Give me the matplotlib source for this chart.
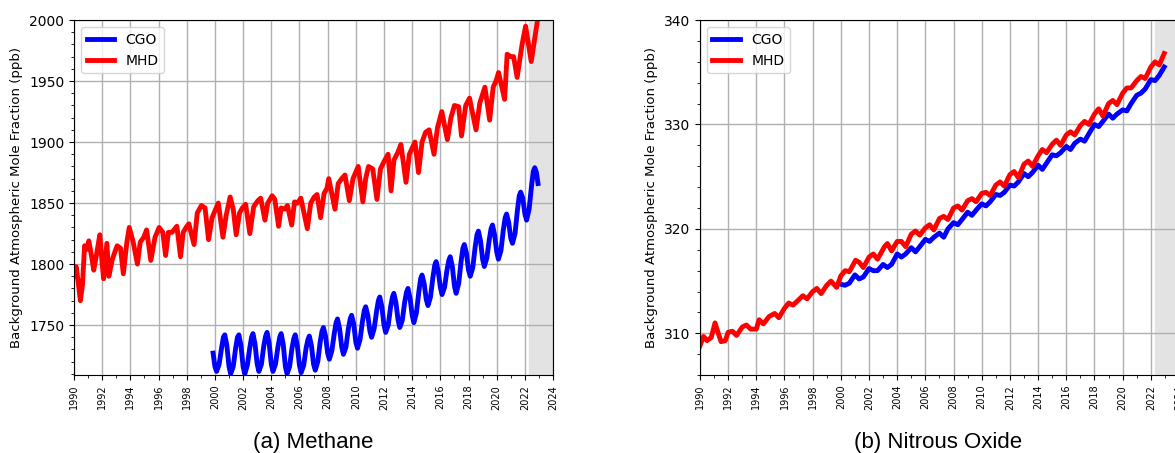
import matplotlib
matplotlib.use('Agg')
import matplotlib.pyplot as plt
from matplotlib.ticker import MultipleLocator

# Methane (ppb), Mace Head and Cape Grim
mhd_ch4_t = [1990.0, 1990.15, 1990.3, 1990.45, 1990.6, 1990.75, 1990.9, 1991.05, 1991.25, 1991.4,
             1991.6, 1991.83, 1992.0, 1992.1, 1992.33, 1992.47, 1992.7, 1992.9, 1993.06, 1993.3,
             1993.5, 1993.75, 1993.92, 1994.2, 1994.5, 1994.7, 1994.95, 1995.15, 1995.45, 1995.75,
             1996.04, 1996.3, 1996.5, 1996.7, 1996.95, 1997.3, 1997.56, 1997.75, 1997.95, 1998.15,
             1998.52, 1998.75, 1999.04, 1999.3, 1999.55, 1999.8, 2000.05, 2000.24, 2000.57, 2000.8,
             2001.08, 2001.3, 2001.51, 2001.75, 2001.95, 2002.18, 2002.48, 2002.75, 2003.05, 2003.25,
             2003.55, 2003.75, 2004.06, 2004.25, 2004.52, 2004.7, 2004.95, 2005.15, 2005.45, 2005.65,
             2005.85, 2006.1, 2006.56, 2006.8, 2007.05, 2007.25, 2007.5, 2007.75, 2007.95, 2008.08,
             2008.52, 2008.75, 2009.0, 2009.23, 2009.54, 2009.8, 2010.17, 2010.5, 2010.7, 2010.9,
             2011.2, 2011.5, 2011.75, 2012.0, 2012.29, 2012.5, 2012.7, 2013.0, 2013.2, 2013.56,
             2013.8, 2014.2, 2014.45, 2014.7, 2014.95, 2015.2, 2015.55, 2015.8, 2016.1, 2016.5,
             2016.75, 2017.0, 2017.3, 2017.5, 2017.8, 2018.07, 2018.53, 2018.8, 2019.16, 2019.5,
             2019.75, 2019.95, 2020.13, 2020.56, 2020.74, 2021.0, 2021.2, 2021.45, 2021.8, 2022.05,
             2022.45, 2022.7, 2022.95]
mhd_ch4 = [1790, 1798, 1785, 1770, 1783, 1815, 1812, 1819, 1806, 1795,
           1808, 1824, 1800, 1788, 1817, 1790, 1803, 1810, 1815, 1813,
           1792, 1818, 1830, 1818, 1800, 1818, 1822, 1828, 1803, 1822,
           1830, 1826, 1807, 1826, 1826, 1831, 1806, 1826, 1830, 1833,
           1816, 1842, 1848, 1846, 1820, 1838, 1845, 1850, 1822, 1840,
           1855, 1845, 1824, 1842, 1846, 1849, 1825, 1847, 1852, 1854,
           1836, 1850, 1856, 1853, 1831, 1846, 1845, 1848, 1832, 1851,
           1850, 1854, 1829, 1850, 1855, 1857, 1838, 1858, 1862, 1870,
           1845, 1866, 1870, 1873, 1852, 1870, 1880, 1851, 1870, 1880,
           1878, 1853, 1878, 1884, 1890, 1860, 1885, 1892, 1898, 1867,
           1890, 1900, 1875, 1900, 1908, 1910, 1890, 1912, 1925, 1902,
           1920, 1930, 1929, 1905, 1930, 1936, 1910, 1932, 1945, 1918,
           1945, 1950, 1957, 1935, 1972, 1970, 1970, 1953, 1980, 1995,
           1966, 1985, 2004]

cgo_ch4_t = [1999.87, 2000.0,
             2000.12, 2000.3, 2000.47, 2000.6, 2000.7, 2000.85, 2001.0,
             2001.12, 2001.3, 2001.47, 2001.6, 2001.7, 2001.85, 2002.0,
             2002.12, 2002.3, 2002.47, 2002.6, 2002.7, 2002.85, 2003.0,
             2003.12, 2003.3, 2003.47, 2003.6, 2003.7, 2003.85, 2004.0,
             2004.12, 2004.3, 2004.47, 2004.6, 2004.7, 2004.85, 2005.0,
             2005.12, 2005.3, 2005.47, 2005.6, 2005.7, 2005.85, 2006.0,
             2006.12, 2006.3, 2006.47, 2006.6, 2006.7, 2006.85, 2007.0,
             2007.12, 2007.3, 2007.47, 2007.6, 2007.7, 2007.85, 2008.0,
             2008.12, 2008.3, 2008.47, 2008.6, 2008.7, 2008.85, 2009.0,
             2009.12, 2009.3, 2009.47, 2009.6, 2009.7, 2009.85, 2010.0,
             2010.12, 2010.3, 2010.47, 2010.6, 2010.7, 2010.85, 2011.0,
             2011.12, 2011.3, 2011.47, 2011.6, 2011.7, 2011.85, 2012.0,
             2012.12, 2012.3, 2012.47, 2012.6, 2012.7, 2012.85, 2013.0,
             2013.12, 2013.3, 2013.47, 2013.6, 2013.7, 2013.85, 2014.0,
             2014.12, 2014.3, 2014.47, 2014.6, 2014.7, 2014.85, 2015.0,
             2015.12, 2015.3, 2015.47, 2015.6, 2015.7, 2015.85, 2016.0,
             2016.12, 2016.3, 2016.47, 2016.6, 2016.7, 2016.85, 2017.0,
             2017.12, 2017.3, 2017.47, 2017.6, 2017.7, 2017.85, 2018.0,
             2018.12, 2018.3, 2018.47, 2018.6, 2018.7, 2018.85, 2019.0,
             2019.12, 2019.3, 2019.47, 2019.6, 2019.7, 2019.85, 2020.0,
             2020.12, 2020.3, 2020.47, 2020.6, 2020.7, 2020.85, 2021.0,
             2021.12, 2021.3, 2021.47, 2021.6, 2021.7, 2021.85, 2022.0,
             2022.12, 2022.3, 2022.47, 2022.6, 2022.7, 2022.82, 2022.93]
cgo_ch4 = [1727, 1716,
           1712, 1718, 1731, 1740, 1742, 1733, 1716,
           1710, 1716, 1731, 1740, 1742, 1733, 1716,
           1710, 1717, 1731, 1740, 1743, 1734, 1718,
           1712, 1718, 1733, 1741, 1744, 1735, 1718,
           1712, 1718, 1732, 1740, 1743, 1734, 1716,
           1710, 1716, 1731, 1739, 1742, 1733, 1717,
           1711, 1717, 1731, 1738, 1741, 1733, 1718,
           1713, 1720, 1736, 1745, 1748, 1741, 1727,
           1722, 1729, 1743, 1752, 1755, 1747, 1732,
           1726, 1732, 1747, 1755, 1758, 1751, 1736,
           1731, 1738, 1753, 1762, 1765, 1758, 1745,
           1740, 1747, 1761, 1770, 1773, 1765, 1750,
           1744, 1750, 1765, 1773, 1776, 1768, 1754,
           1748, 1754, 1769, 1777, 1780, 1772, 1758,
           1752, 1760, 1777, 1788, 1791, 1784, 1771,
           1766, 1773, 1789, 1799, 1802, 1794, 1781,
           1775, 1781, 1795, 1803, 1806, 1798, 1782,
           1776, 1784, 1802, 1813, 1816, 1809, 1795,
           1790, 1797, 1814, 1824, 1827, 1819, 1804,
           1798, 1805, 1820, 1829, 1832, 1824, 1810,
           1804, 1811, 1828, 1838, 1841, 1834, 1821,
           1817, 1825, 1844, 1856, 1859, 1854, 1841,
           1836, 1845, 1864, 1876, 1879, 1875, 1866]

# Nitrous oxide (ppb)
mhd_n2o_t = [1990.0, 1990.25, 1990.5, 1990.8, 1991.07, 1991.3, 1991.5, 1991.8,
             1992.0, 1992.3, 1992.6, 1993.0, 1993.3, 1993.6, 1994.0, 1994.2, 1994.5, 1994.9,
             1995.3, 1995.6, 1996.0, 1996.3, 1996.6, 1997.0, 1997.3, 1997.6, 1998.0, 1998.3,
             1998.6, 1999.0, 1999.3, 1999.7, 2000.0, 2000.3, 2000.6, 2001.05, 2001.3, 2001.6,
             2002.0, 2002.3, 2002.6, 2003.1, 2003.3, 2003.6, 2004.0, 2004.3, 2004.6, 2005.0,
             2005.3, 2005.6, 2006.0, 2006.3, 2006.6, 2007.0, 2007.3, 2007.6, 2008.0, 2008.3,
             2008.6, 2009.0, 2009.3, 2009.6, 2010.0, 2010.3, 2010.6, 2011.0, 2011.3, 2011.6,
             2012.0, 2012.3, 2012.6, 2013.0, 2013.3, 2013.6, 2014.0, 2014.3, 2014.6, 2015.0,
             2015.3, 2015.6, 2016.0, 2016.3, 2016.6, 2017.0, 2017.3, 2017.6, 2018.0, 2018.3,
             2018.6, 2019.0, 2019.3, 2019.6, 2020.0, 2020.3, 2020.6, 2021.0, 2021.3, 2021.6,
             2022.0, 2022.3, 2022.6, 2022.95]
mhd_n2o = [308.8, 309.7, 309.3, 309.6, 311.0, 310.0, 309.2, 309.3,
           310.1, 310.2, 309.8, 310.6, 310.8, 310.4, 310.4, 311.3, 310.9, 311.6,
           311.9, 311.5, 312.4, 312.9, 312.7, 313.2, 313.6, 313.3, 314.0, 314.3,
           313.8, 314.6, 315.0, 314.4, 315.5, 316.0, 315.9, 317.0, 316.8, 316.3,
           317.3, 317.6, 317.1, 318.3, 318.6, 317.9, 318.8, 318.8, 318.3, 319.5,
           319.8, 319.4, 320.1, 320.4, 319.9, 321.0, 321.2, 320.9, 322.0, 322.2,
           321.8, 322.7, 322.9, 322.6, 323.4, 323.5, 323.2, 324.2, 324.5, 324.1,
           325.2, 325.5, 324.9, 326.2, 326.5, 326.0, 327.0, 327.6, 327.3, 328.1,
           328.5, 328.0, 329.0, 329.3, 329.0, 329.9, 330.3, 330.0, 331.0, 331.5,
           330.8, 332.0, 332.3, 331.9, 333.0, 333.5, 333.5, 334.2, 334.6, 334.4,
           335.5, 336.0, 335.7, 336.8]

cgo_n2o_t = [2000.0, 2000.3, 2000.6, 2001.0, 2001.3, 2001.6, 2002.0, 2002.3, 2002.6,
             2003.0, 2003.3, 2003.6, 2004.0, 2004.3, 2004.6, 2005.0, 2005.3, 2005.6,
             2006.0, 2006.3, 2006.6, 2007.0, 2007.3, 2007.6, 2008.0, 2008.3, 2008.6,
             2009.0, 2009.3, 2009.6, 2010.0, 2010.3, 2010.6, 2011.0, 2011.3, 2011.6,
             2012.0, 2012.3, 2012.6, 2013.0, 2013.3, 2013.6, 2014.0, 2014.3, 2014.6,
             2015.0, 2015.3, 2015.6, 2016.0, 2016.3, 2016.6, 2017.0, 2017.3, 2017.6,
             2018.0, 2018.3, 2018.6, 2019.0, 2019.3, 2019.6, 2020.0, 2020.3, 2020.6,
             2021.0, 2021.3, 2021.6, 2022.0, 2022.3, 2022.6, 2022.95]
cgo_n2o = [314.7, 314.6, 314.8, 315.6, 315.2, 315.4, 316.2, 316.0, 316.0,
           316.6, 316.3, 316.6, 317.6, 317.3, 317.6, 318.2, 317.8, 318.3,
           319.0, 318.8, 319.2, 319.6, 319.2, 320.0, 320.6, 320.4, 320.9,
           321.6, 321.3, 321.8, 322.4, 322.2, 322.6, 323.3, 323.2, 323.5,
           324.2, 324.1, 324.5, 325.3, 325.0, 325.4, 326.1, 325.7, 326.3,
           327.1, 327.0, 327.3, 327.9, 327.6, 328.2, 328.6, 328.4, 329.1,
           330.0, 329.8, 330.3, 331.0, 330.6, 331.0, 331.4, 331.3, 332.0,
           332.8, 333.0, 333.4, 334.3, 334.2, 334.7, 335.5]

shade_start = 2022.3

fig = plt.figure(figsize=(11.75, 4.53), dpi=100)
ax1 = fig.add_axes([0.063, 0.172, 0.4077, 0.7837])
ax2 = fig.add_axes([0.5957, 0.172, 0.4077, 0.7837])


def style_axis(ax, ylim, ymajor, yminor):
    ax.axvspan(shade_start, 2024, color='#e3e3e3', zorder=0)
    ax.set_xlim(1990, 2024)
    ax.set_ylim(*ylim)
    ax.xaxis.set_major_locator(MultipleLocator(2))
    ax.xaxis.set_minor_locator(MultipleLocator(1))
    ax.yaxis.set_major_locator(MultipleLocator(ymajor))
    ax.yaxis.set_minor_locator(MultipleLocator(yminor))
    ax.grid(True, which='major', color='#b0b0b0', lw=1)
    ax.set_axisbelow(True)
    ax.tick_params(axis='x', labelsize=7, labelrotation=90)
    ax.tick_params(axis='y', labelsize=10)
    ax.set_ylabel('Background Atmospheric Mole Fraction (ppb)', fontsize=9.5)
    ax.legend(loc='upper left', fontsize=10)


ax1.plot(cgo_ch4_t, cgo_ch4, color='blue', lw=3.5, label='CGO')
ax1.plot(mhd_ch4_t, mhd_ch4, color='red', lw=3.5, label='MHD')
style_axis(ax1, (1709, 2000), 50, 10)

ax2.plot(cgo_n2o_t, cgo_n2o, color='blue', lw=3.5, label='CGO')
ax2.plot(mhd_n2o_t, mhd_n2o, color='red', lw=3.5, label='MHD')
style_axis(ax2, (306, 340), 10, 2)

fig.text(0.2665, 0.01, '(a) Methane', ha='center', va='baseline',
         fontsize=16, family='Liberation Sans')
fig.text(0.7987, 0.01, '(b) Nitrous Oxide', ha='center', va='baseline',
         fontsize=16, family='Liberation Sans')

fig.savefig('out.png', dpi=100)
